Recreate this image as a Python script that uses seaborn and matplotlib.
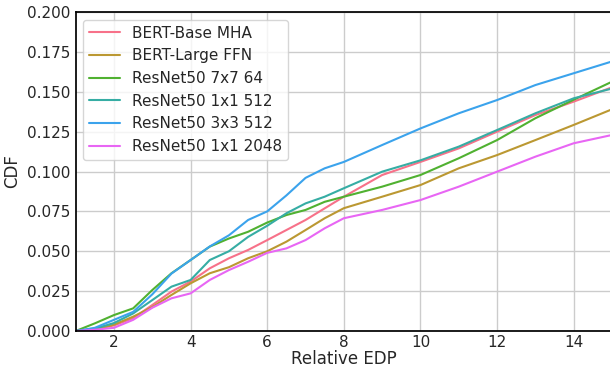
import pandas as pd
import matplotlib
matplotlib.use("Agg")
import matplotlib.pyplot as plt
import seaborn as sns

# puntos (Relative EDP vs CDF)
edp = [1, 1.5, 2, 2.5, 3, 3.5, 4, 4.5, 5, 5.5, 6, 6.5, 7, 7.5, 8, 9, 10, 11, 12, 13, 14, 15]

bert_base_mha = [0, 0.001, 0.0035, 0.008, 0.0163, 0.0247, 0.031, 0.0393, 0.0456, 0.0508, 0.057, 0.0633,
                 0.0696, 0.0769, 0.0842, 0.0978, 0.106, 0.1145, 0.125, 0.1354, 0.1438, 0.1528]
bert_large_ffn = [0, 0.001, 0.004, 0.009, 0.015, 0.0226, 0.0299, 0.0362, 0.040, 0.0456, 0.050, 0.056,
                  0.0633, 0.0707, 0.077, 0.0842, 0.0915, 0.102, 0.1103, 0.1197, 0.1292, 0.139]
resnet_7x7_64 = [0, 0.0048, 0.010, 0.0142, 0.0257, 0.0362, 0.0445, 0.0529, 0.058, 0.0622, 0.068, 0.0727,
                 0.0759, 0.081, 0.0842, 0.0905, 0.0978, 0.1083, 0.1197, 0.1334, 0.145, 0.1563]
resnet_1x1_512 = [0, 0.0015, 0.005, 0.011, 0.0194, 0.0278, 0.032, 0.0445, 0.050, 0.059, 0.066, 0.0738,
                  0.080, 0.0842, 0.0895, 0.0999, 0.107, 0.1156, 0.126, 0.1365, 0.1459, 0.152]
resnet_3x3_512 = [0, 0.002, 0.007, 0.012, 0.023, 0.036, 0.0445, 0.053, 0.060, 0.0696, 0.075, 0.085,
                  0.096, 0.102, 0.106, 0.1166, 0.127, 0.1365, 0.1448, 0.1542, 0.1616, 0.169]
resnet_1x1_2048 = [0, 0.0008, 0.002, 0.007, 0.0146, 0.0205, 0.0236, 0.032, 0.0382, 0.0434, 0.049, 0.0518,
                   0.057, 0.0644, 0.0707, 0.0759, 0.0821, 0.0905, 0.0999, 0.1093, 0.1177, 0.1229]

nombres = ["BERT-Base MHA", "BERT-Large FFN", "ResNet50 7x7 64",
           "ResNet50 1x1 512", "ResNet50 3x3 512", "ResNet50 1x1 2048"]
series = [bert_base_mha, bert_large_ffn, resnet_7x7_64,
          resnet_1x1_512, resnet_3x3_512, resnet_1x1_2048]

# pasar a formato largo para seaborn
filas = []
for nombre, valores in zip(nombres, series):
    for x, y in zip(edp, valores):
        filas.append({"Relative EDP": x, "CDF": y, "layer": nombre})
df = pd.DataFrame(filas)

sns.set_theme(style="whitegrid")

fig = plt.figure(figsize=(6.1, 3.71), dpi=100)
ax = fig.add_axes([75.7 / 610, 40 / 371, (612 - 75.7) / 610, 319 / 371])

sns.lineplot(data=df, x="Relative EDP", y="CDF", hue="layer", hue_order=nombres,
             palette="husl", linewidth=1.5, ax=ax)

ax.set_xlim(1, 15)
ax.set_ylim(0, 0.2)
ax.set_xticks([2, 4, 6, 8, 10, 12, 14])
yt = [0, 0.025, 0.05, 0.075, 0.1, 0.125, 0.15, 0.175, 0.2]
ax.set_yticks(yt)
ax.set_yticklabels([f"{v:.3f}" for v in yt])
ax.tick_params(axis="y", length=0, pad=4)
ax.tick_params(axis="x", length=0, pad=3)
ax.set_xlabel("Relative EDP", labelpad=0)
ax.set_ylabel("CDF", labelpad=4)

for lado in ["left", "bottom", "top", "right"]:
    ax.spines[lado].set_color("black")
    ax.spines[lado].set_linewidth(1.25)

ax.legend(loc="upper left", title=None)

fig.savefig("out.png", dpi=100)
